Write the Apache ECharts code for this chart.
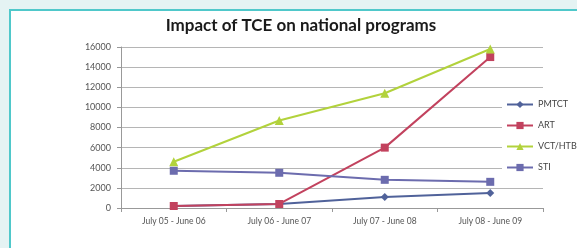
<!DOCTYPE html>
<html lang="en">
<head>
  <meta charset="UTF-8">
  <title>Impact of TCE on national programs</title>
  <script src="https://cdn.jsdelivr.net/npm/echarts@6.0.0/dist/echarts.min.js"></script>
  <style>
    body { margin: 0; }
    #main { width: 577px; height: 248px; }
  </style>
</head>
<body>
  <div id="main"></div>
  <script>
    // chart data
    const categories = ['July 05 - June 06', 'July 06 - June 07', 'July 07 - June 08', 'July 08 - June 09'];
    const pmtct = [200, 400, 1100, 1500];
    const art = [200, 400, 6000, 15000];
    const vctHtb = [4600, 8700, 11400, 15800];
    const sti = [3700, 3500, 2800, 2600];

    let myChart = echarts.init(document.getElementById('main'));

    const font = 'Lato, "Open Sans", sans-serif';

    function line(name, data, color, symbol) {
      return {
        name: name,
        type: 'line',
        data: data,
        symbol: symbol,
        symbolSize: symbol === 'triangle' ? 9 : 8,
        lineStyle: { color: color, width: 2 },
        itemStyle: { color: color },
        emphasis: { disabled: true }
      };
    }

    const options = {
      backgroundColor: '#e4f3f3',
      animation: false,
      textStyle: { fontFamily: font },
      graphic: [{
        type: 'rect',
        z: -1,
        shape: { x: 10, y: 10, width: 620, height: 300 },
        style: { fill: '#ffffff', stroke: '#4fc8ca', lineWidth: 2 }
      }],
      title: {
        text: 'Impact of TCE on national programs',
        left: 296,
        top: 12,
        textAlign: 'center',
        textStyle: { fontFamily: font, fontSize: 17, fontWeight: 'bold', color: '#1a1a1a' }
      },
      legend: {
        orient: 'vertical',
        left: 502,
        top: 98,
        itemWidth: 26,
        itemHeight: 9,
        itemGap: 12,
        padding: [2, 4],
        backgroundColor: '#ffffff',
        textStyle: { fontFamily: font, fontSize: 9, color: '#444' },
        data: ['PMTCT', 'ART', 'VCT/HTB', 'STI']
      },
      grid: { left: 121, right: 34, top: 47, bottom: 40 },
      xAxis: {
        type: 'category',
        data: categories,
        axisLine: { lineStyle: { color: '#999' } },
        axisTick: { show: true, length: 4, lineStyle: { color: '#999' } },
        axisLabel: { fontFamily: font, fontSize: 8.5, color: '#555', margin: 9 }
      },
      yAxis: {
        type: 'value',
        min: 0,
        max: 16000,
        interval: 2000,
        axisLine: { show: true, lineStyle: { color: '#999' } },
        axisTick: { show: true, length: 4, lineStyle: { color: '#999' } },
        axisLabel: { fontFamily: font, fontSize: 9, color: '#555', margin: 10, formatter: v => String(v) },
        splitLine: { lineStyle: { color: '#b5b5b5' } }
      },
      series: [
        line('PMTCT', pmtct, '#50629a', 'diamond'),
        line('ART', art, '#c2425e', 'rect'),
        line('VCT/HTB', vctHtb, '#b2d23c', 'triangle'),
        line('STI', sti, '#6c6cae', 'rect')
      ]
    };

    myChart.setOption(options);
  </script>
</body>
</html>
